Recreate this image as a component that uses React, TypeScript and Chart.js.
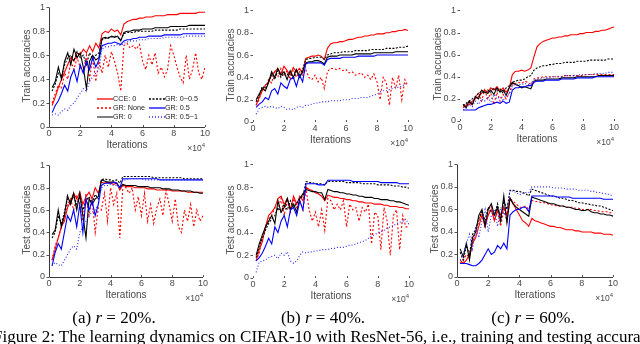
import React, { useEffect, useRef } from "react";
import { Chart, registerables } from "chart.js";
Chart.register(...registerables);

// iterations (x 10^4)
const ITER = [0.2,0.4,0.6,0.8,1,1.2,1.4,1.6,1.8,2,2.2,2.4,2.6,2.8,3,3.2,3.4,3.6,3.8,4,4.2,4.4,4.6,4.8,5,5.2,5.4,5.6,5.8,6,6.2,6.4,6.6,6.8,7,7.2,7.4,7.6,7.8,8,8.2,8.4,8.6,8.8,9,9.2,9.4,9.6,9.8,10];
const SERIES_LABELS = ["CCE: 0", "GR: None", "GR: 0", "GR: 0~0.5", "GR: 0.5", "GR: 0.5~1"];
const X_TICK_STEP = 2;
const Y_TICK_STEP = 0.2;

// (a) r = 20%, train
const aTrCCE = [.18,.25,.33,.40,.46,.52,.58,.55,.62,.60,.65,.62,.68,.63,.70,.66,.78,.80,.79,.82,.80,.81,.77,.86,.88,.89,.90,.90,.91,.91,.92,.92,.92,.93,.93,.93,.93,.94,.94,.94,.94,.95,.95,.95,.95,.95,.95,.96,.96,.96];
const aTrNone = [.20,.28,.35,.32,.45,.40,.55,.48,.58,.50,.45,.60,.40,.58,.38,.55,.45,.60,.50,.63,.55,.45,.30,.68,.70,.66,.68,.65,.69,.55,.48,.60,.52,.62,.45,.50,.42,.48,.68,.60,.50,.42,.37,.60,.40,.48,.62,.45,.40,.50];
const aTrGR0 = [.33,.38,.50,.40,.55,.62,.52,.65,.58,.62,.50,.32,.55,.60,.56,.58,.74,.75,.74,.76,.75,.76,.72,.79,.80,.80,.81,.81,.81,.82,.82,.82,.82,.83,.83,.83,.83,.83,.84,.84,.84,.84,.84,.84,.85,.85,.85,.85,.85,.85];
const aTrGR005 = [.30,.36,.45,.42,.52,.58,.60,.55,.63,.58,.60,.52,.62,.57,.60,.62,.73,.74,.75,.75,.76,.75,.73,.78,.79,.79,.79,.80,.80,.80,.80,.80,.80,.81,.81,.81,.81,.81,.81,.81,.81,.82,.82,.82,.82,.82,.82,.82,.82,.82];
const aTrGR05 = [.12,.18,.22,.28,.35,.30,.42,.48,.38,.52,.45,.55,.48,.58,.50,.56,.68,.69,.70,.70,.71,.70,.69,.72,.73,.73,.74,.74,.75,.75,.75,.76,.76,.76,.76,.76,.77,.77,.77,.77,.77,.77,.78,.78,.78,.78,.78,.78,.78,.78];
const aTrGR051 = [.10,.11,.10,.13,.15,.14,.18,.20,.24,.28,.32,.30,.38,.42,.45,.48,.65,.67,.67,.68,.68,.69,.68,.70,.71,.72,.72,.72,.73,.73,.73,.74,.74,.74,.74,.74,.75,.75,.75,.75,.75,.75,.75,.76,.76,.76,.76,.76,.76,.76];

// (b) r = 40%, train
const bTrCCE = [.15,.22,.28,.33,.36,.42,.45,.48,.43,.50,.46,.42,.49,.45,.48,.44,.57,.58,.59,.59,.60,.59,.56,.66,.70,.71,.71,.72,.72,.73,.74,.74,.75,.76,.76,.77,.77,.78,.78,.79,.79,.79,.80,.80,.81,.81,.82,.82,.83,.82];
const bTrNone = [.15,.20,.30,.28,.38,.35,.45,.40,.48,.42,.46,.38,.47,.40,.45,.42,.47,.40,.38,.42,.36,.40,.30,.45,.48,.48,.47,.48,.46,.47,.44,.45,.42,.43,.44,.40,.42,.38,.43,.36,.20,.40,.35,.15,.40,.30,.42,.20,.38,.32];
const bTrGR0 = [.20,.25,.30,.28,.35,.45,.40,.48,.42,.45,.38,.46,.40,.47,.40,.45,.53,.54,.54,.55,.55,.54,.52,.58,.59,.59,.59,.60,.60,.60,.60,.60,.61,.61,.61,.61,.61,.61,.62,.62,.62,.62,.62,.62,.62,.63,.63,.63,.63,.63];
const bTrGR005 = [.18,.24,.32,.30,.36,.42,.38,.46,.40,.44,.42,.45,.38,.46,.42,.47,.56,.57,.57,.58,.58,.58,.56,.60,.61,.62,.62,.62,.63,.63,.63,.63,.64,.64,.64,.64,.64,.65,.65,.65,.65,.65,.66,.66,.66,.66,.67,.67,.67,.68];
const bTrGR05 = [.13,.16,.18,.22,.20,.28,.30,.25,.35,.32,.30,.38,.40,.32,.42,.36,.52,.53,.53,.53,.53,.53,.51,.56,.57,.57,.57,.57,.58,.58,.58,.58,.58,.59,.59,.59,.59,.59,.59,.60,.60,.60,.60,.60,.60,.60,.60,.60,.60,.60];
const bTrGR051 = [.07,.12,.13,.14,.13,.14,.13,.12,.14,.13,.11,.12,.11,.13,.14,.13,.15,.15,.16,.17,.17,.18,.18,.18,.19,.19,.19,.19,.20,.20,.20,.21,.21,.21,.22,.22,.22,.23,.24,.25,.27,.28,.28,.29,.30,.31,.31,.32,.34,.35];

// (c) r = 60%, train
const cTrCCE = [.12,.14,.15,.18,.20,.22,.25,.28,.26,.30,.28,.31,.27,.30,.26,.30,.42,.45,.45,.46,.45,.46,.48,.58,.67,.70,.72,.73,.74,.75,.75,.76,.76,.77,.77,.78,.78,.78,.79,.79,.80,.80,.80,.81,.81,.82,.82,.83,.84,.85];
const cTrNone = [.12,.15,.18,.14,.22,.25,.18,.28,.20,.25,.15,.26,.18,.24,.20,.25,.33,.34,.35,.34,.36,.35,.33,.38,.39,.39,.40,.40,.40,.40,.40,.40,.40,.41,.41,.41,.41,.41,.41,.41,.42,.42,.42,.42,.42,.42,.42,.42,.42,.42];
const cTrGR0 = [.15,.12,.18,.15,.22,.20,.28,.26,.25,.28,.24,.30,.26,.28,.23,.30,.35,.33,.32,.30,.31,.30,.29,.36,.37,.37,.37,.38,.38,.38,.38,.38,.39,.39,.39,.39,.39,.40,.40,.40,.40,.40,.40,.40,.41,.41,.41,.41,.41,.41];
const cTrGR005 = [.14,.16,.18,.20,.22,.25,.27,.25,.28,.26,.30,.27,.29,.25,.30,.32,.35,.36,.37,.37,.38,.40,.41,.46,.48,.49,.50,.50,.51,.51,.52,.52,.52,.53,.53,.53,.53,.54,.54,.54,.54,.55,.55,.55,.55,.55,.55,.56,.56,.56];
const cTrGR05 = [.10,.10,.10,.10,.10,.12,.13,.14,.15,.15,.16,.17,.16,.18,.16,.17,.28,.30,.30,.31,.31,.32,.32,.35,.36,.36,.36,.37,.37,.37,.37,.37,.38,.38,.38,.38,.38,.39,.39,.39,.39,.39,.39,.40,.40,.40,.40,.40,.40,.40];
const cTrGR051 = [.10,.12,.15,.13,.18,.15,.20,.18,.22,.17,.24,.20,.22,.18,.25,.24,.32,.33,.33,.33,.34,.33,.33,.37,.38,.38,.39,.39,.39,.40,.40,.40,.40,.41,.41,.41,.41,.41,.42,.42,.42,.42,.42,.43,.43,.43,.43,.44,.44,.44];

// (a) r = 20%, test
const aTeCCE = [.15,.25,.35,.45,.50,.62,.68,.75,.70,.76,.65,.72,.76,.70,.80,.75,.85,.84,.85,.84,.83,.84,.78,.83,.81,.81,.81,.80,.80,.80,.80,.79,.79,.79,.78,.78,.78,.78,.78,.77,.77,.77,.77,.77,.76,.76,.76,.76,.76,.76];
const aTeNone = [.15,.28,.35,.45,.55,.65,.70,.60,.72,.65,.50,.75,.55,.70,.40,.62,.60,.75,.50,.80,.65,.75,.35,.82,.80,.75,.80,.60,.72,.55,.75,.50,.65,.48,.62,.70,.55,.78,.65,.50,.70,.45,.40,.60,.50,.65,.45,.60,.50,.55];
const aTeGR0 = [.38,.42,.60,.45,.55,.73,.65,.75,.60,.75,.55,.35,.70,.65,.70,.72,.87,.86,.85,.85,.85,.84,.80,.83,.82,.82,.82,.82,.81,.81,.81,.81,.80,.80,.80,.80,.79,.79,.79,.78,.78,.78,.77,.77,.77,.77,.76,.76,.75,.75];
const aTeGR005 = [.35,.40,.55,.48,.58,.70,.68,.72,.65,.72,.60,.68,.72,.66,.74,.70,.87,.88,.87,.87,.86,.87,.84,.90,.90,.90,.90,.90,.90,.90,.90,.90,.90,.89,.89,.89,.89,.89,.89,.89,.89,.89,.89,.88,.88,.88,.88,.88,.88,.88];
const aTeGR05 = [.10,.22,.30,.25,.40,.55,.50,.60,.45,.65,.40,.70,.60,.68,.55,.65,.82,.84,.84,.84,.85,.84,.80,.88,.88,.88,.88,.88,.88,.88,.88,.88,.88,.88,.88,.87,.87,.87,.87,.87,.87,.87,.87,.87,.87,.87,.87,.87,.87,.87];
const aTeGR051 = [.10,.13,.11,.10,.15,.20,.25,.28,.25,.40,.45,.50,.55,.58,.60,.65,.80,.82,.82,.83,.82,.82,.80,.87,.87,.88,.88,.88,.88,.88,.87,.87,.87,.87,.87,.87,.87,.87,.87,.87,.87,.87,.87,.87,.87,.87,.87,.87,.87,.87];

// (b) r = 40%, test
const bTeCCE = [.15,.25,.32,.45,.55,.58,.62,.70,.72,.65,.70,.60,.72,.65,.72,.68,.80,.78,.77,.75,.74,.72,.68,.73,.72,.71,.71,.70,.70,.69,.69,.68,.68,.67,.67,.66,.66,.66,.65,.65,.65,.64,.64,.63,.63,.63,.62,.62,.61,.61];
const bTeNone = [.15,.22,.35,.45,.52,.55,.62,.60,.70,.55,.68,.58,.70,.62,.68,.60,.78,.60,.50,.58,.45,.60,.42,.70,.68,.60,.65,.60,.68,.45,.65,.60,.62,.50,.62,.58,.65,.30,.58,.55,.25,.62,.50,.20,.55,.60,.25,.55,.45,.45];
const bTeGR0 = [.20,.30,.38,.45,.50,.55,.48,.68,.58,.62,.70,.60,.65,.58,.70,.74,.78,.77,.76,.76,.75,.75,.69,.78,.77,.76,.76,.75,.75,.74,.74,.73,.73,.72,.72,.71,.71,.71,.70,.70,.69,.69,.69,.68,.68,.67,.67,.66,.65,.64];
const bTeGR005 = [.18,.28,.35,.42,.48,.52,.55,.62,.58,.65,.60,.68,.62,.66,.70,.72,.85,.84,.84,.83,.83,.83,.82,.85,.85,.85,.85,.85,.85,.84,.84,.84,.84,.84,.83,.83,.83,.83,.83,.82,.82,.82,.82,.82,.81,.81,.81,.80,.80,.79];
const bTeGR05 = [.15,.18,.22,.28,.35,.30,.45,.40,.50,.55,.45,.60,.62,.55,.68,.60,.83,.83,.83,.83,.82,.82,.82,.86,.86,.86,.86,.86,.86,.86,.86,.85,.85,.85,.85,.85,.85,.85,.85,.85,.84,.84,.84,.84,.84,.84,.83,.83,.83,.83];
const bTeGR051 = [.05,.14,.15,.16,.18,.19,.20,.17,.22,.20,.23,.15,.13,.15,.20,.23,.22,.23,.23,.24,.24,.25,.25,.25,.26,.26,.27,.27,.27,.28,.29,.29,.30,.31,.32,.33,.35,.37,.38,.40,.41,.42,.44,.45,.46,.48,.49,.50,.52,.47];

// (c) r = 60%, test
const cTeCCE = [.15,.12,.15,.20,.30,.35,.45,.55,.45,.55,.60,.50,.60,.55,.62,.55,.70,.65,.60,.55,.50,.48,.45,.52,.50,.49,.48,.47,.46,.45,.45,.44,.44,.43,.42,.42,.42,.41,.41,.40,.40,.40,.40,.39,.39,.39,.38,.38,.38,.37];
const cTeNone = [.12,.15,.20,.18,.30,.40,.50,.58,.45,.55,.62,.50,.58,.45,.60,.50,.70,.67,.65,.62,.62,.63,.60,.68,.67,.67,.66,.66,.65,.64,.64,.63,.63,.63,.62,.62,.62,.61,.61,.60,.60,.60,.60,.59,.59,.58,.58,.58,.57,.57];
const cTeGR0 = [.25,.18,.30,.15,.35,.40,.55,.60,.45,.60,.65,.55,.62,.50,.72,.48,.70,.65,.62,.60,.58,.56,.54,.71,.70,.69,.68,.67,.66,.65,.65,.64,.63,.63,.62,.62,.61,.60,.60,.59,.59,.60,.58,.57,.57,.56,.56,.55,.55,.54];
const cTeGR005 = [.22,.15,.28,.20,.38,.42,.52,.58,.50,.62,.58,.55,.65,.50,.68,.60,.77,.77,.76,.76,.75,.74,.72,.78,.77,.76,.75,.74,.73,.72,.72,.71,.70,.70,.69,.68,.68,.67,.66,.66,.65,.65,.64,.64,.63,.63,.62,.61,.60,.59];
const cTeGR05 = [.12,.12,.12,.11,.10,.10,.12,.15,.20,.25,.20,.22,.28,.25,.30,.25,.55,.58,.60,.60,.62,.62,.58,.72,.72,.72,.72,.72,.72,.72,.72,.71,.71,.71,.71,.71,.70,.70,.70,.70,.70,.70,.70,.70,.70,.70,.69,.69,.69,.69];
const cTeGR051 = [.15,.20,.30,.38,.25,.45,.35,.50,.60,.40,.55,.60,.45,.62,.55,.60,.77,.76,.75,.73,.74,.75,.75,.80,.80,.80,.80,.80,.80,.80,.79,.79,.79,.79,.78,.78,.78,.78,.77,.77,.77,.77,.76,.76,.75,.75,.74,.74,.73,.72];

const CAPTION_TAGS = ["(a)", "(b)", "(c)"];
const NOISE_RATES = ["20%", "40%", "60%"];
const FIG_CAPTION = "Figure 2: The learning dynamics on CIFAR-10 with ResNet-56, i.e., training and testing accura";

// styles
const LINE_STYLES = [
  { color: "#ff0000", dash: [] as number[], width: 1.1 },
  { color: "#ff0000", dash: [2, 2], width: 1.1 },
  { color: "#000000", dash: [] as number[], width: 1.1 },
  { color: "#000000", dash: [2, 1.5], width: 1.1 },
  { color: "#0000ff", dash: [] as number[], width: 1.1 },
  { color: "#2a2aff", dash: [1, 2], width: 1.1 },
];
const TEXT_GREY = "#4a4a4a";
const PL = 40, PT = 6, PR = 8, PB = 14;

const axisPlugin = {
  id: "matlabAxes",
  afterDatasetsDraw(chart: any, _args: any, opts: any) {
    const { ctx, chartArea: a, scales } = chart;
    ctx.save();
    ctx.strokeStyle = "#3a3a3a";
    ctx.lineWidth = 1;
    if (opts.lines) {
      ctx.beginPath();
      ctx.moveTo(a.left + 0.5, a.top);
      ctx.lineTo(a.left + 0.5, a.bottom + 0.5);
      ctx.lineTo(a.right, a.bottom + 0.5);
      ctx.stroke();
    }
    ctx.strokeStyle = "#555";
    ctx.beginPath();
    for (const t of scales.x.ticks) {
      const px = Math.round(scales.x.getPixelForValue(t.value)) + 0.5;
      ctx.moveTo(px, a.bottom);
      ctx.lineTo(px, a.bottom - 2);
    }
    for (const t of scales.y.ticks) {
      const py = Math.round(scales.y.getPixelForValue(t.value)) + 0.5;
      ctx.moveTo(a.left - 2.5, py);
      ctx.lineTo(a.left, py);
    }
    ctx.stroke();
    ctx.restore();
  },
};

type PanelProps = {
  rect: [number, number, number, number];
  series: number[][];
  yTitle: string;
  lines: boolean;
};

function Panel({ rect, series, yTitle, lines }: PanelProps) {
  const ref = useRef<HTMLCanvasElement>(null);
  const [l, t, r, b] = rect;
  const W = r - l + PL + PR;
  const H = b - t + PT + PB;
  useEffect(() => {
    if (!ref.current) return;
    const chart = new Chart(ref.current, {
      type: "line",
      data: {
        datasets: series.map((ys, i) => ({
          label: SERIES_LABELS[i],
          data: ITER.map((x, k) => ({ x, y: ys[k] })),
          borderColor: LINE_STYLES[i].color,
          borderWidth: LINE_STYLES[i].width,
          borderDash: LINE_STYLES[i].dash,
          pointRadius: 0,
          tension: 0,
          fill: false,
          order: 6 - i,
        })),
      },
      options: {
        responsive: false,
        animation: false,
        devicePixelRatio: 1,
        layout: { padding: { left: 0, top: PT, right: PR, bottom: 0 } },
        plugins: {
          legend: { display: false },
          tooltip: { enabled: false },
          matlabAxes: { lines },
        } as any,
        scales: {
          x: {
            type: "linear",
            min: 0,
            max: 10,
            afterFit: (s: any) => { s.height = PB; },
            ticks: { stepSize: X_TICK_STEP, padding: 1, color: TEXT_GREY, font: { size: 9 }, maxRotation: 0, autoSkip: false },
            grid: { display: false, drawTicks: false },
            border: { display: false },
          },
          y: {
            type: "linear",
            min: 0,
            max: 1,
            afterFit: (s: any) => { s.width = PL; },
            ticks: {
              stepSize: Y_TICK_STEP,
              padding: 4,
              color: TEXT_GREY,
              font: { size: 9 },
              callback: (v: any) => String(Number(Number(v).toFixed(1))),
            },
            grid: { display: false, drawTicks: false },
            border: { display: false },
          },
        },
      },
      plugins: [axisPlugin],
    });
    return () => chart.destroy();
  }, []);
  const sans = "'Liberation Sans', Arial, sans-serif";
  return (
    <>
      <canvas
        ref={ref}
        width={W}
        height={H}
        style={{ position: "absolute", left: l - PL, top: t - PT, width: W, height: H }}
      />
      <div
        style={{
          position: "absolute",
          left: l - 22 - 60,
          top: (t + b) / 2 - 7,
          width: 120,
          height: 14,
          lineHeight: "14px",
          textAlign: "center",
          transform: "rotate(-90deg)",
          fontFamily: sans,
          fontSize: 10,
          color: TEXT_GREY,
          whiteSpace: "nowrap",
        }}
      >
        {yTitle}
      </div>
      <div
        style={{
          position: "absolute",
          left: (l + r) / 2 - 40,
          top: b + 18 - 7,
          width: 80,
          lineHeight: "14px",
          textAlign: "center",
          fontFamily: sans,
          fontSize: 10,
          color: TEXT_GREY,
        }}
      >
        Iterations
      </div>
      <div
        style={{
          position: "absolute",
          left: r - 40,
          top: b + 20.5 - 6,
          width: 40,
          lineHeight: "12px",
          textAlign: "right",
          fontFamily: sans,
          fontSize: 8.5,
          color: TEXT_GREY,
          whiteSpace: "nowrap",
        }}
      >
        ×10<sup style={{ fontSize: 6, verticalAlign: "4px", lineHeight: 0 }}>4</sup>
      </div>
    </>
  );
}

function LegendEntry({ x, y, idx, grey }: { x: number; y: number; idx: number; grey?: boolean }) {
  const st = LINE_STYLES[idx];
  return (
    <>
      <svg style={{ position: "absolute", left: x, top: y - 2 }} width={16} height={4}>
        <line
          x1={0}
          y1={2}
          x2={16}
          y2={2}
          stroke={grey ? "#808080" : st.color}
          strokeWidth={grey ? 2 : 1.3}
          strokeDasharray={st.dash.length ? st.dash.join(",") : undefined}
        />
      </svg>
      <div
        style={{
          position: "absolute",
          left: x + 16.5,
          top: y - 5,
          lineHeight: "10px",
          fontFamily: "'Liberation Sans', Arial, sans-serif",
          fontSize: 7.2,
          color: "#222",
          whiteSpace: "nowrap",
        }}
      >
        {SERIES_LABELS[idx]}
      </div>
    </>
  );
}

export default function App() {
  const serif = "'Liberation Serif', 'Times New Roman', serif";
  const captionCenters = [114, 323, 533];
  return (
    <div
      style={{
        position: "absolute",
        left: 0,
        top: 0,
        width: 640,
        height: 344,
        overflow: "hidden",
        background: "#fff",
      }}
    >
      <Panel rect={[49, 4, 205, 127]} series={[aTrCCE, aTrNone, aTrGR0, aTrGR005, aTrGR05, aTrGR051]} yTitle="Train accuracies" lines={true} />
      <Panel rect={[253, 7, 408, 122]} series={[bTrCCE, bTrNone, bTrGR0, bTrGR005, bTrGR05, bTrGR051]} yTitle="Train accuracies" lines={false} />
      <Panel rect={[460, 7, 614, 121]} series={[cTrCCE, cTrNone, cTrGR0, cTrGR005, cTrGR05, cTrGR051]} yTitle="Train accuracies" lines={false} />
      <Panel rect={[49, 162, 203, 277]} series={[aTeCCE, aTeNone, aTeGR0, aTeGR005, aTeGR05, aTeGR051]} yTitle="Test accuracies" lines={true} />
      <Panel rect={[253, 161, 409, 278]} series={[bTeCCE, bTeNone, bTeGR0, bTeGR005, bTeGR05, bTeGR051]} yTitle="Test accuracies" lines={false} />
      <Panel rect={[457, 161, 613, 277]} series={[cTeCCE, cTeNone, cTeGR0, cTeGR005, cTeGR05, cTeGR051]} yTitle="Test accuracies" lines={true} />

      <LegendEntry x={96.5} y={99} idx={0} />
      <LegendEntry x={96.5} y={108} idx={1} />
      <LegendEntry x={96.5} y={116.5} idx={2} grey />
      <LegendEntry x={148.5} y={99} idx={3} />
      <LegendEntry x={148.5} y={108} idx={4} />
      <LegendEntry x={148.5} y={116.5} idx={5} />

      {CAPTION_TAGS.map((tag, i) => (
        <div
          key={tag}
          style={{
            position: "absolute",
            left: captionCenters[i] - 70,
            top: 318 - 10,
            width: 140,
            textAlign: "center",
            fontFamily: serif,
            fontSize: 17,
            lineHeight: "20px",
            color: "#000",
            whiteSpace: "nowrap",
          }}
        >
          {tag} <i>r</i> = {NOISE_RATES[i]}.
        </div>
      ))}
      <div
        style={{
          position: "absolute",
          left: -7,
          top: 337 - 10,
          fontFamily: serif,
          fontSize: 17,
          lineHeight: "20px",
          color: "#000",
          whiteSpace: "nowrap",
        }}
      >
        {FIG_CAPTION}
      </div>
    </div>
  );
}
